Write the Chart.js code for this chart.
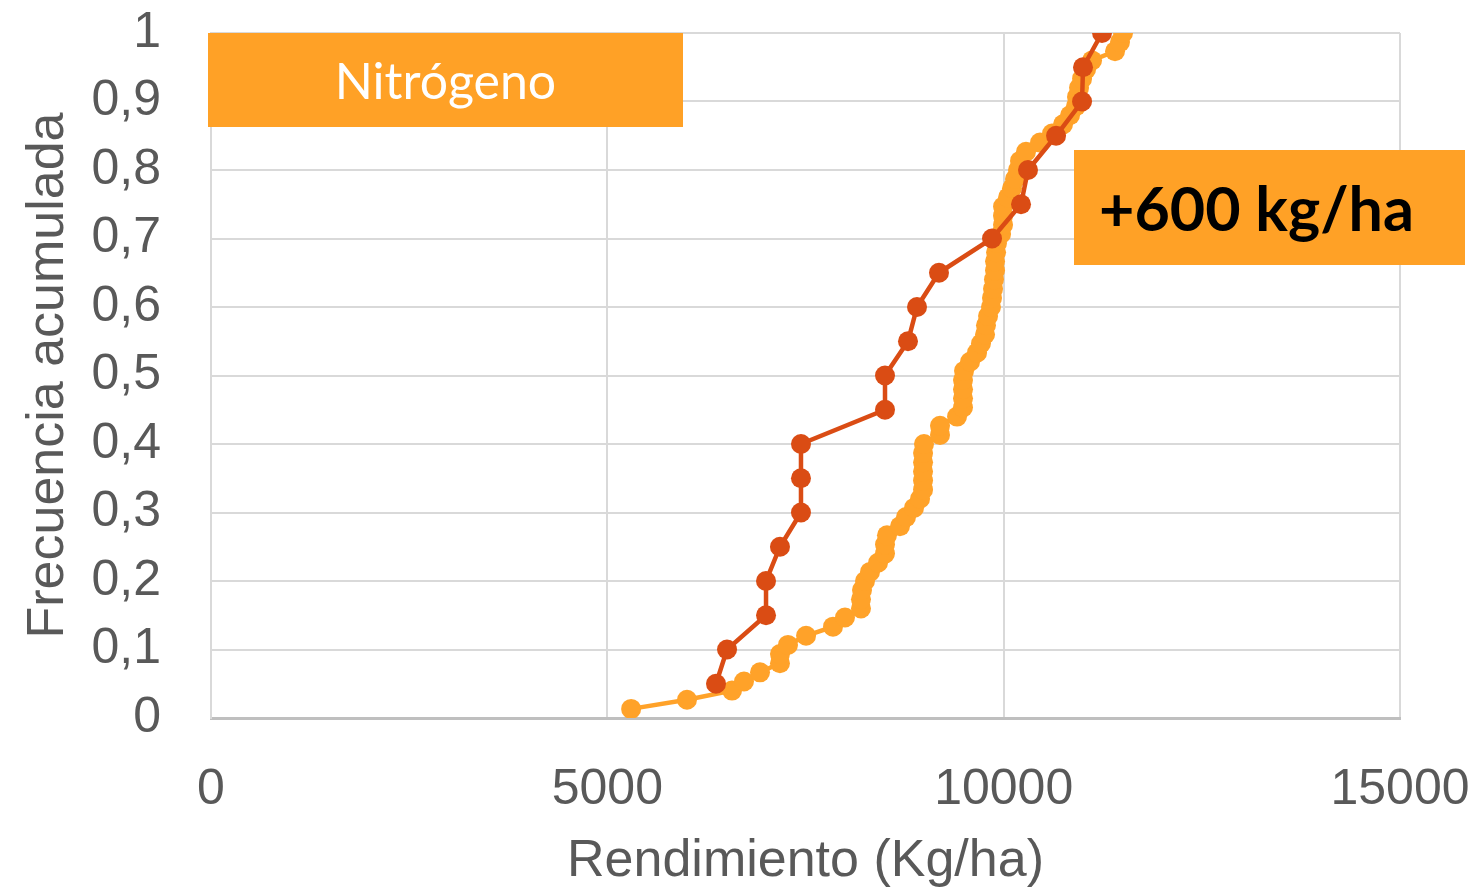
<!DOCTYPE html>
<html>
<head>
<meta charset="utf-8">
<script src="https://cdn.jsdelivr.net/npm/chart.js@4.4.1/dist/chart.umd.min.js"></script>
<style>
  body { margin: 0; background: #fff; }
  #wrap { position: relative; width: 1479px; height: 891px; }
  .box { position: absolute; background: #FFA126; font-family: Lato, sans-serif; }
  #nitro { left: 208px; top: 33px; width: 475px; height: 94px; color: #fff; font-size: 50px;
           display: flex; align-items: center; justify-content: center; }
  #diff { left: 1074px; top: 150px; width: 391px; height: 115px; color: #000; font-size: 61px;
          font-weight: bold; display: flex; align-items: center; padding-left: 25px; box-sizing: border-box; }
</style>
</head>
<body>
<div id="wrap">
  <canvas id="cdf" width="1479" height="891"></canvas>
  <div class="box" id="nitro">Nitrógeno</div>
  <div class="box" id="diff">+600 kg/ha</div>
</div>
<script>
// rendimiento sin N extra (rojo) - 20 sitios
const yieldLow = [6371, 6510, 7002, 7002, 7178, 7443, 7443, 7443, 8503, 8503,
                  8793, 8907, 9184, 9853, 10219, 10307, 10661, 10989, 11001, 11241];
const freqLow = [0.05, 0.1, 0.15, 0.2, 0.25, 0.3, 0.35, 0.4, 0.45, 0.5,
                 0.55, 0.6, 0.65, 0.7, 0.75, 0.8, 0.85, 0.9, 0.95, 1];

// rendimiento con N (naranja) - 75 sitios
const yieldHigh = [5300, 6005, 6573, 6724, 6926, 7178, 7178, 7279, 7507, 7847,
                   7998, 8200, 8200, 8213, 8251, 8314, 8415, 8503, 8503, 8528,
                   8692, 8768, 8869, 8945, 8983, 8983, 8983, 8983, 8983, 8995,
                   9197, 9197, 9412, 9487, 9487, 9487, 9487, 9500, 9576, 9664,
                   9714, 9765, 9777, 9803, 9840, 9853, 9866, 9878, 9891, 9891,
                   9904, 9916, 9967, 9992, 9992, 9992, 10055, 10105, 10143, 10181,
                   10206, 10282, 10459, 10610, 10749, 10837, 10913, 10925, 10951, 10989,
                   11039, 11115, 11405, 11468, 11506];
const freqHigh = [0.0133, 0.0267, 0.04, 0.0533, 0.0667, 0.08, 0.0933, 0.1067, 0.12, 0.1333,
                  0.1467, 0.16, 0.1733, 0.1867, 0.2, 0.2133, 0.2267, 0.24, 0.2533, 0.2667,
                  0.28, 0.2933, 0.3067, 0.32, 0.3333, 0.3467, 0.36, 0.3733, 0.3867, 0.4,
                  0.4133, 0.4267, 0.44, 0.4533, 0.4667, 0.48, 0.4933, 0.5067, 0.52, 0.5333,
                  0.5467, 0.56, 0.5733, 0.5867, 0.6, 0.6133, 0.6267, 0.64, 0.6533, 0.6667,
                  0.68, 0.6933, 0.7067, 0.72, 0.7333, 0.7467, 0.76, 0.7733, 0.7867, 0.8,
                  0.8133, 0.8267, 0.84, 0.8533, 0.8667, 0.88, 0.8933, 0.9067, 0.92, 0.9333,
                  0.9467, 0.96, 0.9733, 0.9867, 1];

const yTickLabels = ['0', '0,1', '0,2', '0,3', '0,4', '0,5', '0,6', '0,7', '0,8', '0,9', '1'];
const xTickLabels = ['0', '5000', '10000', '15000'];

const toPoints = (xs, ys) => xs.map((x, i) => ({ x: x, y: ys[i] }));

const tickFont = { family: 'Liberation Sans', size: 50 };
const titleFont = { family: 'Liberation Sans', size: 52 };
const gray = '#595959';

// no dejar que las etiquetas agranden los margenes
function noLabelPad(s) {
    s.paddingTop = 0;
    s.paddingBottom = 0;
    s.paddingLeft = 0;
    s.paddingRight = 0;
}

new Chart(document.getElementById('cdf').getContext('2d'), {
    type: 'line',
    data: {
        datasets: [{
            data: toPoints(yieldLow, freqLow),
            borderColor: '#DA4C14',
            backgroundColor: '#DA4C14',
            borderWidth: 4.5,
            pointRadius: 10,
            pointBorderWidth: 0,
            tension: 0,
            fill: false
        }, {
            data: toPoints(yieldHigh, freqHigh),
            borderColor: '#FFA229',
            backgroundColor: '#FFA229',
            borderWidth: 4.5,
            pointRadius: 10,
            pointBorderWidth: 0,
            tension: 0,
            fill: false
        }]
    },
    options: {
        responsive: false,
        animation: false,
        layout: { autoPadding: false, padding: { left: 0, top: 33, right: 79, bottom: 0 } },
        plugins: { legend: { display: false }, tooltip: { enabled: false } },
        scales: {
            x: {
                type: 'linear',
                min: 0,
                max: 15000,
                afterFit: s => { s.height = 173; noLabelPad(s); },
                ticks: {
                    stepSize: 5000,
                    padding: 42,
                    color: gray,
                    font: tickFont,
                    maxRotation: 0,
                    callback: (v, i) => xTickLabels[i]
                },
                grid: { color: '#d9d9d9', lineWidth: 2, drawTicks: false },
                border: { color: '#bfbfbf', width: 3 },
                title: {
                    display: true,
                    text: 'Rendimiento (Kg/ha)',
                    color: gray,
                    font: titleFont,
                    padding: { top: 0, bottom: -2 }
                }
            },
            y: {
                min: 0,
                max: 1,
                afterFit: s => { s.width = 211; noLabelPad(s); },
                ticks: {
                    stepSize: 0.1,
                    padding: 50,
                    color: gray,
                    font: tickFont,
                    callback: (v, i) => yTickLabels[i]
                },
                grid: { color: '#d9d9d9', lineWidth: 2, drawTicks: false },
                border: { color: '#d9d9d9', width: 2 },
                title: {
                    display: true,
                    text: 'Frecuencia acumulada',
                    color: gray,
                    font: titleFont,
                    padding: { top: 17, bottom: 0 }
                }
            }
        }
    }
});
</script>
</body>
</html>
